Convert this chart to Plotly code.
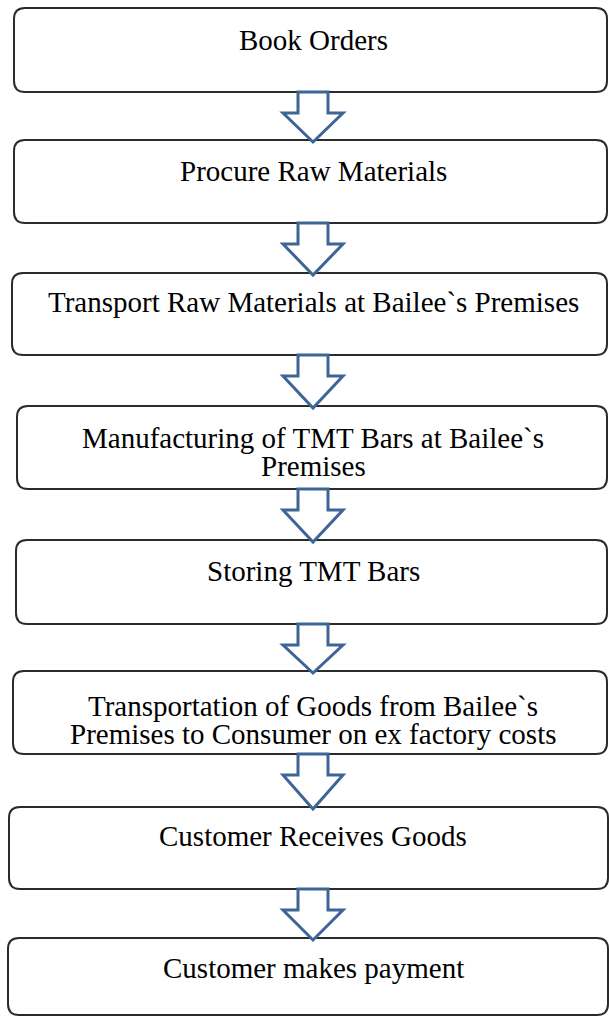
import plotly.graph_objects as go

# ---- content ----
steps = [
    "Book Orders",
    "Procure Raw Materials",
    "Transport Raw Materials at Bailee`s Premises",
    "Manufacturing of TMT Bars at Bailee`s<br>Premises",
    "Storing TMT Bars",
    "Transportation of Goods from Bailee`s<br>Premises to Consumer on ex factory costs",
    "Customer Receives Goods",
    "Customer makes payment",
]

# ---- layout (pixel geometry of the boxes) ----
box_left = [14, 14, 12, 17, 16, 13, 9, 8]
box_right = [607, 607, 607, 607, 607, 607, 608, 608]
box_top = [8, 140, 273, 406, 540, 671, 807, 938]
box_bottom = [92, 223, 355, 489, 624, 754, 889, 1015]
text_first_line_y = [40, 171, 302, 438, 571, 706, 836, 968]
line_gap = 28
text_x = 313
radius = 11

arrow_cx = 313
stem_half = 15
head_half = 30
shoulder_drop = 21

W, H = 609, 1017
fig = go.Figure()


def rounded_rect(x0, y0, x1, y1, r):
    return (f"M {x0+r},{y0} L {x1-r},{y0} Q {x1},{y0} {x1},{y0+r} "
            f"L {x1},{y1-r} Q {x1},{y1} {x1-r},{y1} L {x0+r},{y1} "
            f"Q {x0},{y1} {x0},{y1-r} L {x0},{y0+r} Q {x0},{y0} {x0+r},{y0} Z")


shapes = []
annotations = []
for i, label in enumerate(steps):
    shapes.append(dict(
        type="path", xref="x", yref="y",
        path=rounded_rect(box_left[i], box_top[i], box_right[i], box_bottom[i], radius),
        line=dict(color="#2b2b2b", width=2), fillcolor="white", layer="below"))
    for j, line in enumerate(label.split("<br>")):
        annotations.append(dict(
            x=text_x, y=text_first_line_y[i] + j * line_gap, xref="x", yref="y",
            text=line, showarrow=False, xanchor="center", yanchor="middle",
            font=dict(family="Liberation Serif, Times New Roman, serif", size=29, color="black")))

for i in range(len(steps) - 1):
    y0 = box_bottom[i]
    y1 = box_top[i + 1] + 2
    ys = y0 + shoulder_drop
    path = (f"M {arrow_cx-stem_half},{y0} L {arrow_cx+stem_half},{y0} "
            f"L {arrow_cx+stem_half},{ys} L {arrow_cx+head_half},{ys} "
            f"L {arrow_cx},{y1} L {arrow_cx-head_half},{ys} "
            f"L {arrow_cx-stem_half},{ys} Z")
    shapes.append(dict(type="path", xref="x", yref="y", path=path,
                       line=dict(color="#3D6596", width=3), fillcolor="white",
                       layer="above"))

fig.update_layout(
    width=W, height=H,
    margin=dict(l=0, r=0, t=0, b=0),
    paper_bgcolor="white", plot_bgcolor="white",
    xaxis=dict(range=[0, W], visible=False, fixedrange=True),
    yaxis=dict(range=[H, 0], visible=False, fixedrange=True),
    shapes=shapes, annotations=annotations,
    showlegend=False,
)

fig.write_html(
    "out.html",
    config={"displayModeBar": False},
    post_script="document.body.style.margin='0';document.body.style.overflow='hidden';",
)
